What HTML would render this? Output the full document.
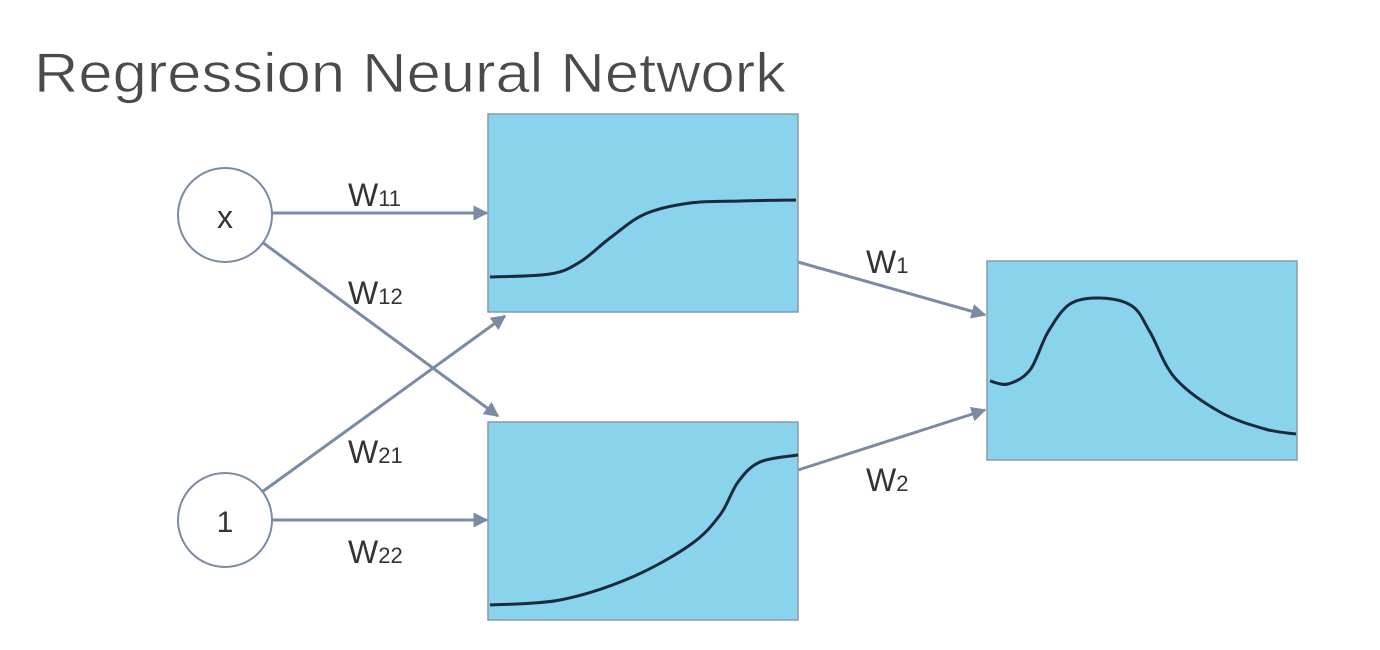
<!DOCTYPE html>
<html><head><meta charset="utf-8"><style>
html,body{margin:0;padding:0;background:#fff;}
svg{display:block;font-family:"Liberation Sans",sans-serif;}
</style></head><body>
<svg id="c" width="1380" height="650" viewBox="0 0 1380 650">
<defs><marker id="ah" viewBox="0 0 10 10" refX="9" refY="5" markerWidth="5" markerHeight="5" orient="auto" markerUnits="strokeWidth"><path d="M0,0 L10,5 L0,10 z" fill="#7a8ba3"/></marker></defs>
<text x="34" y="92" font-size="56" fill="#4a4a4a" stroke="#fff" stroke-width="0.8" textLength="752" lengthAdjust="spacingAndGlyphs">Regression Neural Network</text>
<g stroke="#7a8ba3" stroke-width="3" fill="none">
<line x1="272" y1="213" x2="487" y2="213" marker-end="url(#ah)"/>
<line x1="262" y1="242" x2="498" y2="416" marker-end="url(#ah)"/>
<line x1="262" y1="492" x2="505" y2="316" marker-end="url(#ah)"/>
<line x1="272" y1="520" x2="487" y2="520" marker-end="url(#ah)"/>
<line x1="798" y1="262" x2="985" y2="315" marker-end="url(#ah)"/>
<line x1="798" y1="470" x2="985" y2="410" marker-end="url(#ah)"/>
</g>
<circle cx="225" cy="215" r="47" fill="#fff" stroke="#7a8ba3" stroke-width="2"/>
<text x="225" y="228" font-size="32" text-anchor="middle" fill="#333">x</text>
<circle cx="225" cy="520" r="47" fill="#fff" stroke="#7a8ba3" stroke-width="2"/>
<text x="225" y="532" font-size="30" text-anchor="middle" fill="#333">1</text>
<rect x="488" y="114" width="310" height="198" fill="#89d4ec" stroke="#8a9aa8" stroke-width="1.5"/>
<rect x="488" y="422" width="310" height="198" fill="#89d4ec" stroke="#8a9aa8" stroke-width="1.5"/>
<rect x="987" y="261" width="310" height="199" fill="#89d4ec" stroke="#8a9aa8" stroke-width="1.5"/>
<g font-size="32" fill="#333">
<text x="348" y="206">W<tspan font-size="22">11</tspan></text>
<text x="348" y="304">W<tspan font-size="22">12</tspan></text>
<text x="348" y="463">W<tspan font-size="22">21</tspan></text>
<text x="348" y="563">W<tspan font-size="22">22</tspan></text>
<text x="866" y="273">W<tspan font-size="22">1</tspan></text>
<text x="866" y="491">W<tspan font-size="22">2</tspan></text>
</g>
</svg>
<script>
// curve sample points (x,y in page coordinates)
const curve1X=[490,550,580,610,645,690,740,796];
const curve1Y=[277,274,262,238,214,203,201,200];
const curve2X=[490,560,630,690,720,738,760,798];
const curve2Y=[605,600,578,545,515,482,462,455];
const curve3X=[990,1008,1030,1048,1070,1100,1132,1150,1175,1220,1265,1296];
const curve3Y=[381,384,370,332,304,298,306,332,378,412,429,434];
const svg=document.getElementById('c');
function path(xs,ys){
  let d='M'+xs[0]+','+ys[0];
  for(let i=0;i<xs.length-1;i++){
    const x0=xs[Math.max(i-1,0)],y0=ys[Math.max(i-1,0)];
    const x1=xs[i],y1=ys[i],x2=xs[i+1],y2=ys[i+1];
    const x3=xs[Math.min(i+2,xs.length-1)],y3=ys[Math.min(i+2,xs.length-1)];
    d+=' C'+(x1+(x2-x0)/6)+','+(y1+(y2-y0)/6)+' '+(x2-(x3-x1)/6)+','+(y2-(y3-y1)/6)+' '+x2+','+y2;
  }
  return d;
}
[[curve1X,curve1Y,'hidden-1-curve'],[curve2X,curve2Y,'hidden-2-curve'],[curve3X,curve3Y,'output-curve']].forEach(c=>{
  const p=document.createElementNS('http://www.w3.org/2000/svg','path');
  p.setAttribute('d',path(c[0],c[1]));
  p.setAttribute('fill','none');p.setAttribute('stroke','#1b2a3a');p.setAttribute('stroke-width','3');
  
  
  svg.appendChild(p);
});
</script>
</body></html>
